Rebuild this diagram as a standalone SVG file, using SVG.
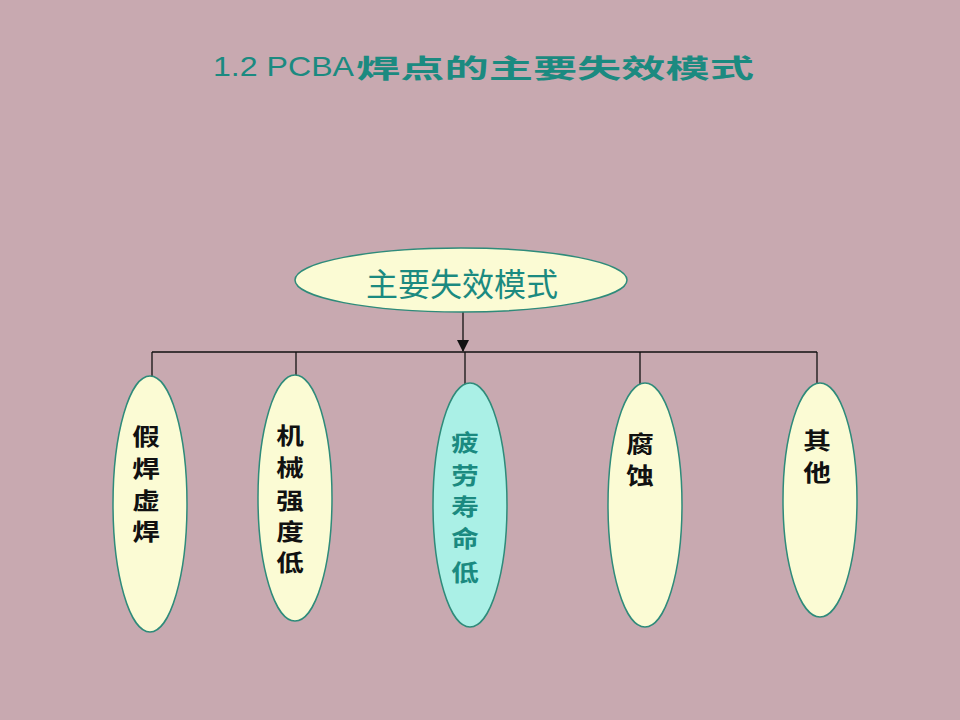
<svg xmlns="http://www.w3.org/2000/svg" width="960" height="720" viewBox="0 0 960 720">
<defs>
<style>
.bg{fill:#c8a9b0}
.title{font-family:"Liberation Sans",sans-serif;font-size:28px;fill:#1b8a80}
.tcjk{font-family:"Noto Sans CJK SC",sans-serif;font-size:26px;font-weight:bold;fill:#1b8a80}
.node{fill:#fbfbd4;stroke:#2e8b7a;stroke-width:1.5}
.hl{fill:#aaf0e6}
.main{font-family:"Noto Sans CJK SC",sans-serif;font-size:32px;fill:#1b8a80;text-anchor:middle}
.lbl{font-family:"Noto Sans CJK SC",sans-serif;font-size:23px;font-weight:bold;fill:#111;text-anchor:middle}
.lblt{fill:#1b8a80}
.conn{stroke:#111;stroke-width:1.3;fill:none}
</style>
<marker id="arr" markerWidth="12" markerHeight="12" refX="11" refY="6" orient="auto" markerUnits="userSpaceOnUse">
<path d="M0,0 L12,6 L0,12 Z" fill="#111"/>
</marker>
</defs>
<rect class="bg" x="0" y="0" width="960" height="720"/>
<g id="title">
<text class="title" x="213" y="76" textLength="141" lengthAdjust="spacingAndGlyphs">1.2 PCBA</text>
<text class="tcjk" x="356" y="78" textLength="398" lengthAdjust="spacingAndGlyphs">焊点的主要失效模式</text>
</g>
<g id="connectors">
<line class="conn" x1="463" y1="312" x2="463" y2="351" marker-end="url(#arr)"/>
<line class="conn" x1="152" y1="352" x2="817" y2="352"/>
<line class="conn" x1="152" y1="352" x2="152" y2="377"/>
<line class="conn" x1="296" y1="352" x2="296" y2="376"/>
<line class="conn" x1="465" y1="352" x2="465" y2="384"/>
<line class="conn" x1="640" y1="352" x2="640" y2="384"/>
<line class="conn" x1="817" y1="352" x2="817" y2="384"/>
</g>
<g id="root">
<ellipse class="node" cx="461" cy="280" rx="166" ry="32"/>
<text class="main" x="462" y="296">主要失效模式</text>
</g>
<g id="n1">
<ellipse class="node" cx="150" cy="504" rx="37" ry="128"/>
<text class="lbl" transform="translate(146,0) scale(1.2,1)"><tspan x="0" y="445">假</tspan><tspan x="0" y="477">焊</tspan><tspan x="0" y="509">虚</tspan><tspan x="0" y="540">焊</tspan></text>
</g>
<g id="n2">
<ellipse class="node" cx="295" cy="498" rx="37" ry="123"/>
<text class="lbl" transform="translate(290,0) scale(1.2,1)"><tspan x="0" y="444">机</tspan><tspan x="0" y="476">械</tspan><tspan x="0" y="509">强</tspan><tspan x="0" y="540">度</tspan><tspan x="0" y="571">低</tspan></text>
</g>
<g id="n3">
<ellipse class="node hl" cx="470" cy="505" rx="37" ry="122"/>
<text class="lbl lblt" transform="translate(465,0) scale(1.2,1)"><tspan x="0" y="451">疲</tspan><tspan x="0" y="484">劳</tspan><tspan x="0" y="515">寿</tspan><tspan x="0" y="547">命</tspan><tspan x="0" y="581">低</tspan></text>
</g>
<g id="n4">
<ellipse class="node" cx="645" cy="505" rx="37" ry="122"/>
<text class="lbl" transform="translate(640,0) scale(1.2,1)"><tspan x="0" y="452">腐</tspan><tspan x="0" y="484">蚀</tspan></text>
</g>
<g id="n5">
<ellipse class="node" cx="820" cy="500" rx="37" ry="117"/>
<text class="lbl" transform="translate(817,0) scale(1.2,1)"><tspan x="0" y="449">其</tspan><tspan x="0" y="481">他</tspan></text>
</g>
</svg>
